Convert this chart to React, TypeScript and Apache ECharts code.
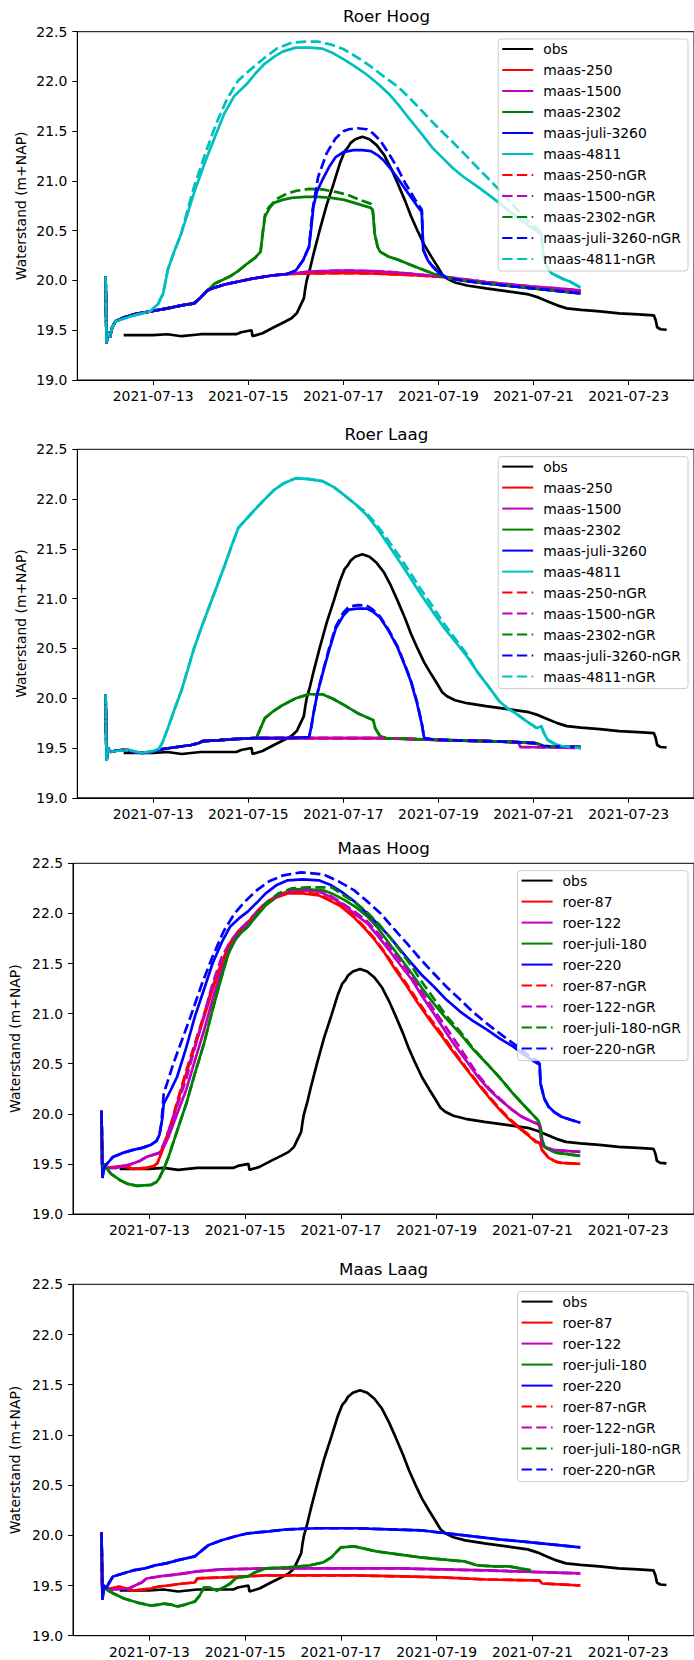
import React, { useEffect, useRef } from "react";
import * as echarts from "echarts";

type Pt = [number, number];

// ---------- axis settings ----------
const X_MIN = 11.405;
const X_MAX = 24.375;
const X_TICKS = [13, 15, 17, 19, 21, 23];
const Y_MIN = 19.0;
const Y_MAX = 22.5;
const Y_STEP = 0.5;
const Y_NAME = "Waterstand (m+NAP)";

// ---------- observations (day of July 2021, m+NAP) ----------
const OBS: Pt[] = [
  [12.38, 19.45], [12.6, 19.45], [13.0, 19.45], [13.3, 19.46], [13.6, 19.44], [14.0, 19.46],
  [14.4, 19.46], [14.75, 19.46], [14.85, 19.48], [15.07, 19.5], [15.09, 19.44], [15.3, 19.47],
  [15.54, 19.53], [15.75, 19.58], [15.91, 19.62], [16.02, 19.67], [16.09, 19.74], [16.17, 19.82],
  [16.2, 19.92], [16.23, 20.0], [16.3, 20.12], [16.37, 20.26], [16.5, 20.5], [16.65, 20.76],
  [16.8, 20.98], [16.93, 21.18], [17.03, 21.3], [17.1, 21.34], [17.15, 21.38], [17.25, 21.42],
  [17.4, 21.445], [17.55, 21.42], [17.7, 21.36], [17.86, 21.26], [18.0, 21.13], [18.14, 20.98],
  [18.3, 20.8], [18.42, 20.65], [18.56, 20.5], [18.7, 20.36], [18.85, 20.24], [18.98, 20.14],
  [19.08, 20.06], [19.18, 20.02], [19.35, 19.98], [19.6, 19.95], [20.0, 19.92], [20.46, 19.89],
  [20.9, 19.86], [21.1, 19.83], [21.3, 19.79], [21.5, 19.75], [21.7, 19.72], [22.0, 19.705],
  [22.4, 19.69], [22.8, 19.67], [23.2, 19.66], [23.53, 19.65], [23.57, 19.6], [23.6, 19.53],
  [23.67, 19.51], [23.8, 19.505],
];

// ---------- Roer Hoog ----------
const RH_START: Pt[] = [
  [12.0, 20.04], [12.02, 19.37], [12.05, 19.48], [12.09, 19.43], [12.14, 19.53], [12.21, 19.59],
  [12.4, 19.63], [12.6, 19.66], [12.94, 19.69], [13.3, 19.72], [13.6, 19.75], [13.86, 19.77],
  [14.0, 19.83], [14.14, 19.9],
];
const RH_RISE: Pt[] = [[14.24, 19.92], [14.5, 19.96], [14.8, 19.99], [15.1, 20.02], [15.5, 20.05], [15.82, 20.065]];
const RH_250_TAIL: Pt[] = [
  [16.3, 20.07], [17.0, 20.075], [17.6, 20.07], [18.14, 20.06], [18.6, 20.05], [19.07, 20.035],
  [19.5, 20.01], [20.0, 19.98], [20.5, 19.955], [20.93, 19.935], [21.5, 19.91], [21.99, 19.895],
];
const RH_1500_TAIL: Pt[] = [
  [16.3, 20.09], [17.0, 20.1], [17.6, 20.095], [18.14, 20.08], [18.6, 20.06], [19.07, 20.04],
  [19.5, 20.015], [20.0, 19.985], [20.5, 19.96], [20.93, 19.94], [21.5, 19.92], [21.99, 19.9],
];
const RH_LOW_TAIL: Pt[] = [[19.16, 20.03], [19.5, 20.0], [20.0, 19.97], [20.5, 19.945], [21.0, 19.92], [21.5, 19.895], [21.99, 19.87]];
const RH_2302_MID: Pt[] = [
  [14.3, 19.97], [14.61, 20.04], [14.8, 20.1], [14.98, 20.17], [15.15, 20.23], [15.26, 20.29],
  [15.3, 20.45], [15.35, 20.64], [15.45, 20.73], [15.54, 20.78], [15.72, 20.81], [15.91, 20.83],
  [16.2, 20.84], [16.47, 20.84], [16.75, 20.83], [17.02, 20.81], [17.3, 20.77], [17.58, 20.73],
];
const RH_2302_NGR_MID: Pt[] = [
  [14.3, 19.97], [14.61, 20.04], [14.8, 20.1], [14.98, 20.17], [15.15, 20.23], [15.26, 20.29],
  [15.3, 20.47], [15.36, 20.68], [15.44, 20.74], [15.6, 20.82], [15.8, 20.87], [16.0, 20.9],
  [16.28, 20.92], [16.56, 20.915], [16.84, 20.89], [17.1, 20.86], [17.35, 20.81], [17.58, 20.77],
];
const RH_2302_DROP: Pt[] = [
  [17.62, 20.7], [17.66, 20.47], [17.72, 20.34], [17.77, 20.29], [17.95, 20.24], [18.14, 20.21],
  [18.5, 20.14], [18.88, 20.07],
];
const RH_3260_MID: Pt[] = [
  [16.0, 20.1], [16.15, 20.2], [16.28, 20.34], [16.33, 20.55], [16.37, 20.74], [16.45, 20.9],
  [16.56, 21.01], [16.7, 21.14], [16.84, 21.24], [17.0, 21.29], [17.21, 21.31], [17.4, 21.31],
  [17.58, 21.3], [17.72, 21.26], [17.86, 21.2], [18.0, 21.12], [18.14, 21.03], [18.3, 20.92],
  [18.42, 20.84], [18.55, 20.75], [18.65, 20.69],
];
const RH_3260_NGR_MID: Pt[] = [
  [16.0, 20.1], [16.15, 20.2], [16.28, 20.34], [16.35, 20.7], [16.47, 21.04], [16.65, 21.28],
  [16.84, 21.43], [17.0, 21.5], [17.12, 21.52], [17.3, 21.53], [17.49, 21.52], [17.62, 21.48],
  [17.77, 21.41], [17.95, 21.28], [18.14, 21.13], [18.3, 20.98], [18.5, 20.82], [18.65, 20.71],
];
const RH_3260_DROP: Pt[] = [[18.68, 20.31], [18.78, 20.2], [18.88, 20.14], [19.0, 20.08]];
const RH_4811_EARLY: Pt[] = [
  [12.0, 20.04], [12.02, 19.37], [12.05, 19.48], [12.09, 19.43], [12.14, 19.53], [12.21, 19.59],
  [12.6, 19.65], [12.94, 19.69], [13.1, 19.76], [13.21, 19.87], [13.31, 20.11], [13.45, 20.3], [13.59, 20.47],
];
const RH_4811_MID: Pt[] = [
  [13.73, 20.68], [13.86, 20.88], [14.1, 21.2], [14.33, 21.48], [14.5, 21.68], [14.7, 21.85],
  [14.98, 21.98], [15.15, 22.08], [15.35, 22.18], [15.55, 22.25], [15.72, 22.3], [16.0, 22.34],
  [16.3, 22.34], [16.56, 22.33], [16.8, 22.28], [17.02, 22.22], [17.25, 22.15], [17.49, 22.07],
  [17.72, 21.98], [17.95, 21.88], [18.15, 21.77], [18.33, 21.66], [18.5, 21.56], [18.7, 21.44],
  [18.88, 21.33], [19.07, 21.24], [19.3, 21.13], [19.53, 21.04], [19.8, 20.95], [20.0, 20.88],
  [20.25, 20.79], [20.46, 20.71], [20.7, 20.62], [20.93, 20.54],
];
const RH_4811_NGR_MID: Pt[] = [
  [13.73, 20.72], [13.86, 20.94], [14.1, 21.28], [14.33, 21.58], [14.55, 21.82], [14.79, 22.01],
  [15.0, 22.1], [15.35, 22.24], [15.6, 22.33], [15.91, 22.39], [16.2, 22.4], [16.47, 22.4],
  [16.75, 22.37], [17.02, 22.32], [17.3, 22.24], [17.58, 22.15], [17.85, 22.05], [18.14, 21.95],
  [18.4, 21.83], [18.7, 21.68], [19.0, 21.53], [19.26, 21.41], [19.55, 21.27], [19.81, 21.14],
  [20.1, 21.0], [20.46, 20.82], [20.8, 20.63], [21.12, 20.5],
];
const RH_4811_END: Pt[] = [
  [21.16, 20.47], [21.21, 20.24], [21.3, 20.12], [21.39, 20.07], [21.6, 20.02], [21.76, 19.99], [21.99, 19.93],
];

// ---------- Roer Laag ----------
const RL_START: Pt[] = [
  [12.0, 20.04], [12.02, 19.37], [12.05, 19.5], [12.1, 19.46], [12.19, 19.47], [12.35, 19.48],
  [12.47, 19.48], [12.6, 19.46], [12.75, 19.45], [12.95, 19.46], [13.21, 19.49], [13.5, 19.51],
  [13.8, 19.53], [13.96, 19.55], [14.05, 19.57], [14.4, 19.58], [14.89, 19.595], [15.17, 19.6],
];
const RL_FLAT: Pt[] = [[15.82, 19.6], [16.8, 19.6], [17.67, 19.6], [18.5, 19.59], [19.07, 19.58], [20.0, 19.57], [20.6, 19.56]];
const RL_250_TAIL: Pt[] = [[21.02, 19.55], [21.1, 19.54], [21.2, 19.52], [21.99, 19.51]];
const RL_1500_TAIL: Pt[] = [[20.68, 19.56], [20.72, 19.51], [21.5, 19.505], [21.99, 19.5]];
const RL_LOW_TAIL: Pt[] = [
  [18.9, 19.585], [19.5, 19.575], [20.0, 19.57], [20.6, 19.56], [21.02, 19.55], [21.1, 19.54], [21.2, 19.52], [21.99, 19.51],
];
const RL_2302_MID: Pt[] = [
  [15.26, 19.7], [15.35, 19.8], [15.5, 19.86], [15.72, 19.93], [16.0, 20.0], [16.28, 20.04],
  [16.56, 20.04], [16.8, 19.99], [17.02, 19.93], [17.3, 19.85], [17.63, 19.78], [17.67, 19.7],
  [17.77, 19.62], [17.9, 19.6], [18.5, 19.59],
];
const RL_3260_MID: Pt[] = [
  [15.82, 19.6], [16.28, 19.61], [16.33, 19.72], [16.37, 19.84], [16.45, 20.04], [16.56, 20.24],
  [16.7, 20.48], [16.84, 20.7], [17.0, 20.83], [17.12, 20.89], [17.3, 20.9], [17.49, 20.9],
  [17.62, 20.87], [17.77, 20.81], [17.95, 20.68], [18.14, 20.51], [18.3, 20.32], [18.42, 20.17],
  [18.55, 19.95], [18.65, 19.74], [18.7, 19.6],
];
const RL_3260_NGR_MID: Pt[] = [
  [15.82, 19.6], [16.28, 19.61], [16.33, 19.72], [16.37, 19.84], [16.45, 20.04], [16.56, 20.25],
  [16.7, 20.5], [16.84, 20.72], [17.0, 20.86], [17.12, 20.92], [17.3, 20.935], [17.49, 20.93],
  [17.62, 20.89], [17.77, 20.82], [17.95, 20.69], [18.14, 20.52], [18.3, 20.33], [18.42, 20.18],
  [18.55, 19.96], [18.65, 19.75], [18.7, 19.6],
];
const RL_4811_RISE: Pt[] = [
  [12.0, 20.04], [12.02, 19.37], [12.05, 19.5], [12.1, 19.46], [12.2, 19.47], [12.5, 19.48],
  [12.75, 19.45], [13.0, 19.47], [13.12, 19.49], [13.2, 19.56], [13.31, 19.7], [13.45, 19.89],
  [13.59, 20.07], [13.73, 20.29], [13.86, 20.5], [14.0, 20.69], [14.14, 20.87], [14.33, 21.11],
  [14.51, 21.34], [14.65, 21.53], [14.79, 21.71], [14.98, 21.81], [15.17, 21.91], [15.35, 22.0],
  [15.54, 22.09], [15.75, 22.16], [16.0, 22.21], [16.28, 22.2], [16.56, 22.18], [16.8, 22.12],
  [17.02, 22.04], [17.25, 21.95],
];
const RL_4811_FALL: Pt[] = [
  [17.49, 21.84], [17.72, 21.7], [17.95, 21.54], [18.2, 21.36], [18.42, 21.2], [18.65, 21.03],
  [18.88, 20.87], [19.1, 20.72], [19.35, 20.57], [19.6, 20.42],
];
const RL_4811_NGR_FALL: Pt[] = [
  [17.49, 21.86], [17.72, 21.73], [17.95, 21.58], [18.2, 21.41], [18.42, 21.25], [18.65, 21.08],
  [18.88, 20.92], [19.1, 20.76], [19.35, 20.6], [19.6, 20.44],
];
const RL_4811_END: Pt[] = [
  [19.81, 20.27], [20.05, 20.12], [20.28, 19.97], [20.45, 19.9], [20.65, 19.84], [20.85, 19.77],
  [21.07, 19.7], [21.16, 19.72], [21.22, 19.65], [21.3, 19.58], [21.45, 19.54], [21.58, 19.52], [21.99, 19.5],
];

// ---------- Maas Hoog ----------
const MH_87: Pt[] = [
  [12.0, 20.03], [12.02, 19.36], [12.05, 19.5], [12.1, 19.46], [12.3, 19.47], [12.45, 19.48],
  [12.66, 19.45], [12.94, 19.46], [13.1, 19.48], [13.17, 19.51], [13.3, 19.67], [13.45, 19.88],
  [13.58, 20.1], [13.77, 20.4], [13.95, 20.67], [14.14, 20.96], [14.32, 21.24], [14.5, 21.48],
  [14.69, 21.7], [14.87, 21.82], [15.06, 21.9], [15.25, 22.01], [15.43, 22.1], [15.65, 22.16],
  [15.89, 22.2], [16.2, 22.2], [16.54, 22.18], [16.8, 22.12], [17.0, 22.07], [17.25, 21.97],
  [17.46, 21.87], [17.7, 21.74], [17.92, 21.6], [18.15, 21.43], [18.38, 21.27], [18.6, 21.11],
  [18.85, 20.94], [19.1, 20.78], [19.31, 20.64], [19.6, 20.46], [19.86, 20.3], [20.1, 20.16],
  [20.32, 20.04], [20.5, 19.95], [20.69, 19.87], [20.9, 19.79], [21.06, 19.72], [21.15, 19.71],
  [21.2, 19.64], [21.34, 19.56], [21.5, 19.52], [21.61, 19.51], [22.0, 19.5],
];
const MH_87_NGR: Pt[] = [
  [12.0, 20.03], [12.02, 19.36], [12.05, 19.5], [12.1, 19.46], [12.3, 19.47], [12.45, 19.48],
  [12.66, 19.45], [12.94, 19.46], [13.1, 19.48], [13.17, 19.51], [13.3, 19.68], [13.45, 19.9],
  [13.58, 20.12], [13.77, 20.43], [13.95, 20.7], [14.14, 20.99], [14.32, 21.27], [14.5, 21.5],
  [14.69, 21.71], [14.87, 21.83], [15.06, 21.91], [15.25, 22.02], [15.43, 22.11], [15.65, 22.17],
  [15.89, 22.21], [16.2, 22.21], [16.54, 22.19], [16.8, 22.13], [17.0, 22.08], [17.25, 21.98],
  [17.46, 21.88], [17.7, 21.75], [17.92, 21.61], [18.15, 21.45], [18.38, 21.29], [18.6, 21.13],
  [18.85, 20.96], [19.1, 20.8], [19.31, 20.66], [19.6, 20.47], [19.86, 20.31], [20.1, 20.17],
  [20.32, 20.05], [20.5, 19.96], [20.69, 19.88], [20.9, 19.8], [21.06, 19.73], [21.15, 19.71],
  [21.2, 19.64], [21.34, 19.56], [21.5, 19.52], [21.61, 19.51], [22.0, 19.5],
];
const MH_122: Pt[] = [
  [12.0, 20.03], [12.02, 19.36], [12.05, 19.5], [12.1, 19.46], [12.3, 19.46], [12.57, 19.49],
  [12.8, 19.53], [12.94, 19.57], [13.21, 19.61], [13.3, 19.67], [13.4, 19.77], [13.58, 20.0],
  [13.77, 20.24], [13.95, 20.53], [14.14, 20.83], [14.32, 21.14], [14.51, 21.44], [14.69, 21.64],
  [14.87, 21.8], [15.06, 21.9], [15.25, 22.01], [15.43, 22.1], [15.7, 22.18], [15.98, 22.23],
  [16.3, 22.23], [16.54, 22.22], [16.8, 22.16], [17.0, 22.1], [17.28, 22.0], [17.55, 21.9],
  [17.78, 21.77], [18.01, 21.63], [18.25, 21.48], [18.48, 21.34], [18.7, 21.17], [18.94, 21.0],
  [19.2, 20.81], [19.4, 20.67], [19.65, 20.51], [19.86, 20.37], [20.1, 20.24], [20.32, 20.14],
  [20.55, 20.05], [20.78, 19.97], [21.0, 19.92], [21.11, 19.9], [21.15, 19.88], [21.2, 19.69],
  [21.3, 19.66], [21.43, 19.64], [21.7, 19.63], [22.0, 19.62],
];
const MH_122_NGR: Pt[] = [
  [12.0, 20.03], [12.02, 19.36], [12.05, 19.5], [12.1, 19.46], [12.3, 19.46], [12.57, 19.49],
  [12.8, 19.53], [12.94, 19.57], [13.21, 19.61], [13.3, 19.7], [13.4, 19.83], [13.58, 20.08],
  [13.77, 20.35], [13.95, 20.66], [14.14, 20.98], [14.32, 21.3], [14.51, 21.56], [14.69, 21.72],
  [14.87, 21.83], [15.06, 21.92], [15.25, 22.02], [15.43, 22.1], [15.7, 22.18], [15.98, 22.23],
  [16.3, 22.23], [16.54, 22.22], [16.8, 22.17], [17.0, 22.11], [17.28, 22.02], [17.55, 21.92],
  [17.78, 21.8], [18.01, 21.67], [18.25, 21.52], [18.48, 21.37], [18.7, 21.21], [18.94, 21.04],
  [19.2, 20.86], [19.4, 20.72], [19.65, 20.54], [19.86, 20.39], [20.1, 20.25], [20.32, 20.15],
  [20.55, 20.05], [20.78, 19.97], [21.0, 19.92], [21.11, 19.9], [21.15, 19.88], [21.2, 19.69],
  [21.3, 19.66], [21.43, 19.64], [21.7, 19.63], [22.0, 19.62],
];
const MH_180: Pt[] = [
  [12.0, 20.03], [12.02, 19.36], [12.05, 19.5], [12.1, 19.46], [12.2, 19.4], [12.38, 19.34],
  [12.55, 19.3], [12.75, 19.28], [13.03, 19.29], [13.15, 19.32], [13.21, 19.36], [13.3, 19.45],
  [13.4, 19.57], [13.58, 19.83], [13.77, 20.1], [13.95, 20.4], [14.14, 20.7], [14.32, 21.04],
  [14.51, 21.37], [14.65, 21.6], [14.78, 21.73], [14.9, 21.8], [15.06, 21.87], [15.25, 21.98],
  [15.43, 22.08], [15.7, 22.18], [15.98, 22.24], [16.3, 22.24], [16.63, 22.23], [16.85, 22.19],
  [17.09, 22.13], [17.32, 22.06], [17.55, 21.97], [17.78, 21.85], [18.01, 21.7], [18.25, 21.55],
  [18.48, 21.4], [18.7, 21.25], [18.94, 21.1], [19.2, 20.95], [19.49, 20.8], [19.75, 20.65],
  [20.05, 20.5], [20.3, 20.37], [20.6, 20.2], [20.85, 20.07], [21.11, 19.94], [21.17, 19.87],
  [21.2, 19.75], [21.25, 19.67], [21.4, 19.63], [21.52, 19.61], [22.0, 19.58],
];
const MH_180_NGR: Pt[] = [
  [12.0, 20.03], [12.02, 19.36], [12.05, 19.5], [12.1, 19.46], [12.2, 19.4], [12.38, 19.34],
  [12.55, 19.3], [12.75, 19.28], [13.03, 19.29], [13.15, 19.32], [13.21, 19.36], [13.3, 19.45],
  [13.4, 19.57], [13.58, 19.83], [13.77, 20.1], [13.95, 20.4], [14.14, 20.7], [14.32, 21.04],
  [14.51, 21.37], [14.65, 21.6], [14.78, 21.73], [14.9, 21.8], [15.06, 21.87], [15.25, 21.99],
  [15.43, 22.1], [15.7, 22.2], [15.98, 22.25], [16.3, 22.26], [16.81, 22.26], [17.09, 22.17],
  [17.32, 22.1], [17.55, 22.01], [17.78, 21.9], [18.01, 21.77], [18.25, 21.62], [18.48, 21.47],
  [18.7, 21.31], [18.94, 21.15], [19.2, 20.98], [19.49, 20.82], [19.75, 20.66], [20.05, 20.5],
  [20.3, 20.37], [20.6, 20.2], [20.85, 20.07], [21.11, 19.94], [21.17, 19.87], [21.2, 19.75],
  [21.25, 19.67], [21.4, 19.63], [21.52, 19.61], [22.0, 19.58],
];
const MH_220: Pt[] = [
  [12.0, 20.03], [12.02, 19.36], [12.06, 19.47], [12.15, 19.52], [12.24, 19.57], [12.45, 19.61],
  [12.66, 19.64], [12.85, 19.66], [13.03, 19.69], [13.15, 19.73], [13.21, 19.79], [13.27, 19.95],
  [13.3, 20.1], [13.45, 20.24], [13.58, 20.37], [13.77, 20.66], [13.95, 20.97], [14.14, 21.24],
  [14.32, 21.5], [14.51, 21.71], [14.69, 21.87], [14.87, 21.95], [15.06, 22.02], [15.25, 22.11],
  [15.43, 22.2], [15.65, 22.28], [15.89, 22.33], [16.2, 22.34], [16.54, 22.33], [16.8, 22.28],
  [17.0, 22.22], [17.28, 22.12], [17.55, 22.0], [17.78, 21.89], [18.01, 21.77], [18.25, 21.63],
  [18.48, 21.5], [18.7, 21.38], [18.94, 21.27], [19.2, 21.14], [19.49, 21.02], [19.75, 20.93],
  [20.05, 20.84], [20.32, 20.75], [20.6, 20.67], [20.85, 20.58], [21.11, 20.5],
];
const MH_220_NGR: Pt[] = [
  [12.0, 20.03], [12.02, 19.36], [12.06, 19.47], [12.15, 19.52], [12.24, 19.57], [12.45, 19.61],
  [12.66, 19.64], [12.85, 19.66], [13.03, 19.69], [13.15, 19.73], [13.21, 19.79], [13.25, 19.9],
  [13.3, 20.2], [13.5, 20.5], [13.86, 20.97], [14.1, 21.3], [14.32, 21.57], [14.55, 21.82],
  [14.78, 22.0], [15.0, 22.12], [15.24, 22.23], [15.5, 22.32], [15.8, 22.38], [16.17, 22.41],
  [16.63, 22.39], [16.95, 22.32], [17.28, 22.23], [17.55, 22.12], [17.83, 22.0], [18.1, 21.85],
  [18.38, 21.7], [18.65, 21.55], [18.94, 21.4], [19.2, 21.27], [19.49, 21.14], [19.75, 21.02],
  [20.05, 20.9], [20.35, 20.79], [20.69, 20.67], [20.9, 20.59], [21.11, 20.52],
];
const MH_220_END: Pt[] = [
  [21.15, 20.5], [21.17, 20.3], [21.25, 20.15], [21.34, 20.07], [21.45, 20.02], [21.61, 19.97], [21.8, 19.94], [22.0, 19.91],
];

// ---------- Maas Laag ----------
const ML_87: Pt[] = [
  [12.0, 20.03], [12.02, 19.36], [12.05, 19.5], [12.1, 19.47], [12.2, 19.47], [12.38, 19.49],
  [12.5, 19.47], [12.66, 19.45], [12.85, 19.46], [13.03, 19.47], [13.2, 19.49], [13.4, 19.5],
  [13.7, 19.52], [13.95, 19.53], [14.0, 19.57], [14.51, 19.58], [15.43, 19.6], [17.28, 19.6],
  [18.3, 19.59], [19.12, 19.58], [20.05, 19.56], [21.15, 19.55], [21.2, 19.52], [22.0, 19.5],
];
const ML_122: Pt[] = [
  [12.0, 20.03], [12.02, 19.36], [12.05, 19.5], [12.1, 19.47], [12.2, 19.46], [12.57, 19.47],
  [12.7, 19.5], [12.84, 19.53], [12.94, 19.57], [13.2, 19.59], [13.58, 19.61], [14.0, 19.64],
  [14.51, 19.66], [15.4, 19.67], [16.35, 19.67], [18.2, 19.67], [20.05, 19.65], [22.0, 19.62],
];
const ML_180: Pt[] = [
  [12.0, 20.03], [12.02, 19.36], [12.05, 19.5], [12.1, 19.46], [12.25, 19.42], [12.47, 19.37],
  [12.75, 19.33], [13.03, 19.3], [13.2, 19.31], [13.3, 19.32], [13.45, 19.31], [13.58, 19.29],
  [13.75, 19.31], [13.95, 19.34], [14.05, 19.4], [14.14, 19.48], [14.25, 19.48], [14.41, 19.45],
  [14.55, 19.48], [14.69, 19.52], [14.8, 19.57], [14.87, 19.58], [15.06, 19.59], [15.2, 19.63],
  [15.43, 19.67], [15.9, 19.68], [16.35, 19.7], [16.63, 19.73], [16.8, 19.78], [17.0, 19.88],
  [17.28, 19.89], [17.74, 19.84], [18.2, 19.81], [18.66, 19.78], [19.1, 19.76], [19.58, 19.74],
  [19.86, 19.7], [20.2, 19.69], [20.51, 19.69], [20.97, 19.65],
];
const ML_220: Pt[] = [
  [12.0, 20.03], [12.02, 19.36], [12.05, 19.5], [12.1, 19.47], [12.15, 19.52], [12.24, 19.59],
  [12.45, 19.62], [12.66, 19.65], [12.9, 19.67], [13.12, 19.7], [13.35, 19.72], [13.58, 19.75],
  [13.95, 19.79], [14.1, 19.85], [14.23, 19.9], [14.51, 19.95], [14.8, 19.99], [15.06, 20.02],
  [15.5, 20.04], [15.89, 20.06], [16.5, 20.07], [17.28, 20.07], [18.0, 20.06], [18.66, 20.05],
  [19.58, 20.0], [20.3, 19.96], [20.97, 19.93], [22.0, 19.88],
];

// ---------- colours ----------
const C_OBS = "#000000";
const C_R = "#ff0000";
const C_M = "#bf00bf";
const C_G = "#008000";
const C_B = "#0000ff";
const C_C = "#00bfbf";

type S = { name: string; data: Pt[]; color: string; dashed?: boolean };
type Plot = { title: string; divTop: number; left: number; top: number; width: number; height: number; nameGap: number; series: S[] };

const PLOTS: Plot[] = [
  {
    title: "Roer Hoog", divTop: 0, left: 77.3, top: 31.7, width: 618.3, height: 348.3, nameGap: 49,
    series: [
      { name: "obs", data: OBS, color: C_OBS },
      { name: "maas-250", data: [...RH_START, ...RH_RISE, ...RH_250_TAIL], color: C_R },
      { name: "maas-1500", data: [...RH_START, ...RH_RISE, ...RH_1500_TAIL], color: C_M },
      { name: "maas-2302", data: [...RH_START, ...RH_2302_MID, ...RH_2302_DROP, ...RH_LOW_TAIL], color: C_G },
      { name: "maas-juli-3260", data: [...RH_START, ...RH_RISE, ...RH_3260_MID, ...RH_3260_DROP, ...RH_LOW_TAIL], color: C_B },
      { name: "maas-4811", data: [...RH_4811_EARLY, ...RH_4811_MID, ...RH_4811_END], color: C_C },
      { name: "maas-250-nGR", data: [...RH_START, ...RH_RISE, ...RH_250_TAIL], color: C_R, dashed: true },
      { name: "maas-1500-nGR", data: [...RH_START, ...RH_RISE, ...RH_1500_TAIL], color: C_M, dashed: true },
      { name: "maas-2302-nGR", data: [...RH_START, ...RH_2302_NGR_MID, ...RH_2302_DROP, ...RH_LOW_TAIL], color: C_G, dashed: true },
      { name: "maas-juli-3260-nGR", data: [...RH_START, ...RH_RISE, ...RH_3260_NGR_MID, ...RH_3260_DROP, ...RH_LOW_TAIL], color: C_B, dashed: true },
      { name: "maas-4811-nGR", data: [...RH_4811_EARLY, ...RH_4811_NGR_MID, ...RH_4811_END], color: C_C, dashed: true },
    ],
  },
  {
    title: "Roer Laag", divTop: 415, left: 77.3, top: 34.3, width: 618.3, height: 348.5, nameGap: 49,
    series: [
      { name: "obs", data: OBS, color: C_OBS },
      { name: "maas-250", data: [...RL_START, ...RL_FLAT, ...RL_250_TAIL], color: C_R },
      { name: "maas-1500", data: [...RL_START, ...RL_FLAT, ...RL_1500_TAIL], color: C_M },
      { name: "maas-2302", data: [...RL_START, ...RL_2302_MID, ...RL_LOW_TAIL], color: C_G },
      { name: "maas-juli-3260", data: [...RL_START, ...RL_3260_MID, ...RL_LOW_TAIL], color: C_B },
      { name: "maas-4811", data: [...RL_4811_RISE, ...RL_4811_FALL, ...RL_4811_END], color: C_C },
      { name: "maas-250-nGR", data: [...RL_START, ...RL_FLAT, ...RL_250_TAIL], color: C_R, dashed: true },
      { name: "maas-1500-nGR", data: [...RL_START, ...RL_FLAT, ...RL_1500_TAIL], color: C_M, dashed: true },
      { name: "maas-2302-nGR", data: [...RL_START, ...RL_2302_MID, ...RL_LOW_TAIL], color: C_G, dashed: true },
      { name: "maas-juli-3260-nGR", data: [...RL_START, ...RL_3260_NGR_MID, ...RL_LOW_TAIL], color: C_B, dashed: true },
      { name: "maas-4811-nGR", data: [...RL_4811_RISE, ...RL_4811_NGR_FALL, ...RL_4811_END], color: C_C, dashed: true },
    ],
  },
  {
    title: "Maas Hoog", divTop: 830, left: 72.3, top: 33.3, width: 622.6, height: 350.7, nameGap: 51,
    series: [
      { name: "obs", data: OBS, color: C_OBS },
      { name: "roer-87", data: MH_87, color: C_R },
      { name: "roer-122", data: MH_122, color: C_M },
      { name: "roer-juli-180", data: MH_180, color: C_G },
      { name: "roer-220", data: [...MH_220, ...MH_220_END], color: C_B },
      { name: "roer-87-nGR", data: MH_87_NGR, color: C_R, dashed: true },
      { name: "roer-122-nGR", data: MH_122_NGR, color: C_M, dashed: true },
      { name: "roer-juli-180-nGR", data: MH_180_NGR, color: C_G, dashed: true },
      { name: "roer-220-nGR", data: [...MH_220_NGR, ...MH_220_END], color: C_B, dashed: true },
    ],
  },
  {
    title: "Maas Laag", divTop: 1245, left: 72.3, top: 39.3, width: 622.6, height: 351.4, nameGap: 51,
    series: [
      { name: "obs", data: OBS, color: C_OBS },
      { name: "roer-87", data: ML_87, color: C_R },
      { name: "roer-122", data: ML_122, color: C_M },
      { name: "roer-juli-180", data: ML_180, color: C_G },
      { name: "roer-220", data: ML_220, color: C_B },
      { name: "roer-87-nGR", data: ML_87, color: C_R, dashed: true },
      { name: "roer-122-nGR", data: ML_122, color: C_M, dashed: true },
      { name: "roer-juli-180-nGR", data: ML_180, color: C_G, dashed: true },
      { name: "roer-220-nGR", data: ML_220, color: C_B, dashed: true },
    ],
  },
];

const FONT = "DejaVu Sans";
const FS = 13.9;

function makeOption(p: Plot): any {
  const axisLineStyle = { color: "#000", width: 1 };
  return {
    animation: false,
    textStyle: { fontFamily: FONT },
    grid: {
      left: p.left, top: p.top, width: p.width, height: p.height,
      show: true, borderColor: "#000", borderWidth: 1, backgroundColor: "transparent", containLabel: false,
    },
    xAxis: {
      type: "value", min: X_MIN, max: X_MAX,
      splitLine: { show: false },
      axisLine: { show: true, onZero: false, lineStyle: axisLineStyle },
      axisTick: { show: true, length: 5, customValues: X_TICKS, lineStyle: axisLineStyle },
      axisLabel: {
        customValues: X_TICKS, color: "#000", fontSize: FS, fontFamily: FONT, margin: 9,
        formatter: (v: number) => "2021-07-" + String(Math.round(v)).padStart(2, "0"),
      },
    },
    yAxis: {
      type: "value", min: Y_MIN, max: Y_MAX, interval: Y_STEP,
      name: Y_NAME, nameLocation: "middle", nameGap: p.nameGap, nameRotate: 90,
      nameMoveOverlap: false,
      nameTextStyle: { color: "#000", fontSize: FS, fontFamily: FONT },
      splitLine: { show: false },
      axisLine: { show: true, onZero: false, lineStyle: axisLineStyle },
      axisTick: { show: true, length: 5, lineStyle: axisLineStyle },
      axisLabel: { color: "#000", fontSize: FS, fontFamily: FONT, margin: 10, formatter: (v: number) => v.toFixed(1) },
    },
    legend: {
      orient: "vertical", right: 6, top: p.top + 7.3,
      itemWidth: 31, itemHeight: 14, itemGap: 7,
      padding: [3, 7, 5, 3],
      backgroundColor: "rgba(255,255,255,0.8)", borderColor: "#cccccc", borderWidth: 1, borderRadius: 3,
      itemStyle: { opacity: 0 },
      textStyle: { color: "#000", fontSize: FS, fontFamily: FONT, lineHeight: 14, padding: [0, 0, 0, 5] },
      data: p.series.map((s) => s.name),
      selectedMode: false,
    },
    graphic: [
      {
        type: "text", x: p.left + p.width / 2, y: p.top - 15.5, silent: true,
        style: { text: p.title, fontSize: 16.7, fontFamily: FONT, fill: "#000", align: "center", verticalAlign: "middle" },
      },
    ],
    series: p.series.map((s) => ({
      type: "line", name: s.name, data: s.data, symbol: "none", showSymbol: false, silent: true,
      lineStyle: { color: s.color, width: 2.7, type: s.dashed ? [10.3, 4.4] : "solid" },
      itemStyle: { color: s.color },
    })),
  };
}

export default function App() {
  const refs = useRef<(HTMLDivElement | null)[]>([]);
  useEffect(() => {
    const charts = PLOTS.map((p, i) => {
      const c = echarts.init(refs.current[i] as HTMLDivElement, null, { renderer: "svg" });
      c.setOption(makeOption(p));
      return c;
    });
    return () => charts.forEach((c) => c.dispose());
  }, []);
  return (
    <div style={{ position: "absolute", left: 0, top: 0, width: 694, height: 1660, background: "#fff" }}>
      {PLOTS.map((p, i) => (
        <div
          key={p.title}
          ref={(el) => { refs.current[i] = el; }}
          style={{ position: "absolute", left: 0, top: p.divTop, width: 694, height: 415 }}
        />
      ))}
    </div>
  );
}
